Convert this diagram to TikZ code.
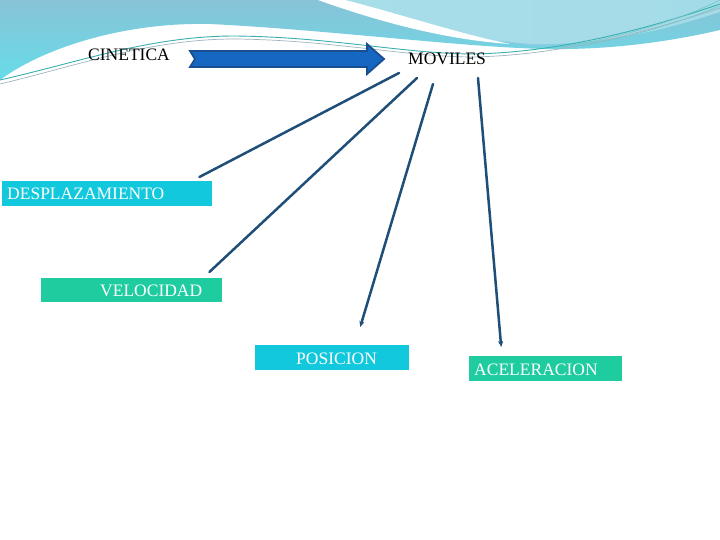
\documentclass[tikz,border=0pt]{standalone}
\usepackage{fontspec}
\setmainfont{Liberation Serif}
\usetikzlibrary{calc,arrows.meta}
\definecolor{navy}{HTML}{1F4E79}
\definecolor{cyanbox}{HTML}{12C8DC}
\definecolor{greenbox}{HTML}{1ECCA0}
\definecolor{arrowfill}{HTML}{1567C1}
\definecolor{arrowline}{HTML}{1A4F8F}
\definecolor{bgtop}{HTML}{88C3D7}
\definecolor{bgbot}{HTML}{66DCE8}
\definecolor{bglight}{HTML}{A8DEE8}
\definecolor{bgmid}{HTML}{8CCBE6}
\definecolor{thinteal}{HTML}{3AAFB2}
\definecolor{thingray}{HTML}{9DB5BE}
\tikzset{
  cbox/.style={rectangle, fill=cyanbox, inner sep=0pt},
  gbox/.style={rectangle, fill=greenbox, inner sep=0pt},
  lbl/.style={inner sep=0pt, font=\fontsize{17.5}{20}\selectfont},
  wlbl/.style={lbl, text=white},
  conn/.style={draw=navy, line width=2.5pt, line cap=round},
  conntip/.style={conn, -{Stealth[length=6pt,width=5pt]}},
  bigarrow/.style={fill=arrowfill, draw=arrowline, line width=1.8pt, line join=miter},
}
\begin{document}
\begin{tikzpicture}[x=1pt,y=-1pt]
\useasboundingbox (0,0) rectangle (720,540);
\fill[white] (0,0) rectangle (720,540);
% background waves
\path[top color=bgtop, bottom color=bgbot]
  (0,0) -- (720,0) -- (720,30) .. controls (660,44) and (600,50) .. (545,49)
  .. controls (460,47) and (330,30) .. (210,24)
  .. controls (120,22) and (40,50) .. (0,80) -- cycle;
\path[left color=bglight, right color=bglight!85!bgmid]
  (322,0) .. controls (390,22) and (460,40) .. (530,44)
  .. controls (610,46) and (680,25) .. (720,12) -- (720,0) -- cycle;
\fill[bgmid] (500,40) .. controls (530,46) and (560,46) .. (590,42)
  .. controls (560,48) and (530,48) .. (500,40) -- cycle;
\fill[white] (318,0) .. controls (385,24) and (450,40) .. (510,44)
  .. controls (460,34) and (400,14) .. (345,0) -- cycle;
\draw[thinteal, line width=0.9pt] (0,80) .. controls (80,62) and (150,36) .. (235,36)
  .. controls (330,37) and (400,53) .. (470,54) .. controls (560,53) and (650,28) .. (720,4);
\draw[thingray, line width=0.7pt] (0,84) .. controls (80,65) and (150,39) .. (235,39)
  .. controls (330,40) and (400,56) .. (470,57) .. controls (560,56) and (650,31) .. (720,8);
\draw[thinteal!70!white, line width=0.6pt] (560,47) .. controls (620,38) and (680,20) .. (720,0);
\draw[thinteal!70!white, line width=0.6pt] (580,46) .. controls (640,36) and (690,18) .. (720,6);

% title words and big arrow
\node[lbl, anchor=base west] (cin) at (88,61) {CINETICA};
\node[lbl, anchor=base west] (mov) at (408,65) {MOVILES};
\coordinate (ta) at (190,59);
\coordinate (hd) at (384,59);
\draw[bigarrow] ($(ta)+(0,-8)$) -- ($(hd)+(-17,-8)$) -- ($(hd)+(-17,-15)$) -- (hd)
  -- ($(hd)+(-17,15)$) -- ($(hd)+(-17,8)$) -- ($(ta)+(0,8)$) -- ($(ta)+(5,0)$) -- cycle;

% boxes
\node[cbox, minimum width=210pt, minimum height=25pt, anchor=north west] (desp) at (2,181) {};
\node[wlbl, anchor=base west] (despt) at (7,199.5) {DESPLAZAMIENTO};
\node[gbox, minimum width=181pt, minimum height=24pt, anchor=north west] (velo) at (41,278) {};
\node[wlbl, anchor=base west] (velot) at (100,296) {VELOCIDAD};
\node[cbox, minimum width=154pt, minimum height=25pt, anchor=north west] (posi) at (255,345) {};
\node[wlbl, anchor=base west] (posit) at (296,364) {POSICION};
\node[gbox, minimum width=153pt, minimum height=25pt, anchor=north west] (acel) at (469,356) {};
\node[wlbl, anchor=base west] (acelt) at (474,375) {ACELERACION};

% connectors
\coordinate (m1) at ($(mov.base west)+(-9,8)$);
\coordinate (m2) at ($(mov.base west)+(9,13)$);
\coordinate (m3) at ($(mov.base west)+(25,19)$);
\coordinate (m4) at ($(mov.base west)+(70,13)$);
\draw[conn] (m1) -- ($(desp.north east)+(-13,-4)$);
\draw[conn] (m2) -- ($(velo.north east)+(-13,-6)$);
\draw[conntip] (m3) -- ($(posi.north)+(28,-18)$);
\draw[conntip] (m4) -- ($(acel.north)+(-44.5,-9)$);
\end{tikzpicture}
\end{document}
